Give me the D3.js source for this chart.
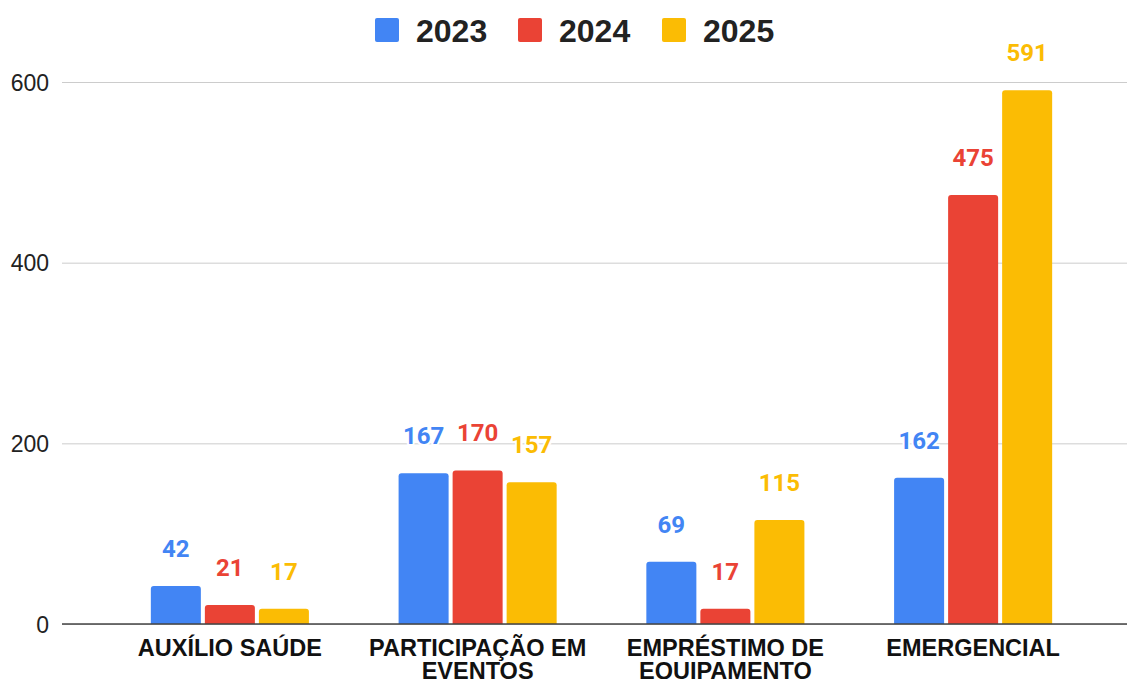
<!DOCTYPE html>
<html lang="pt">
<head>
    <meta charset="UTF-8">
    <script src="https://d3js.org/d3.v7.min.js"></script>
    <style>
        body { margin: 0; background: #fff; font-family: "Liberation Sans", Arial, sans-serif; }
        svg { display: block; }
        .grid line { stroke: #cccccc; stroke-width: 1px; }
        .grid text { fill: #222; font-size: 23px; }
        .xaxis text { fill: #111; font-size: 23.5px; font-weight: bold; }
        .label { font-family: Roboto, sans-serif; font-weight: bold; font-size: 24px;
                 paint-order: stroke; stroke: #fff; stroke-width: 4px; stroke-linejoin: round; }
    </style>
</head>
<body>
    <svg id="chart"></svg>
    <script>
        // categorias e valores
        const categorias = ["AUXÍLIO SAÚDE", "PARTICIPAÇÃO EM EVENTOS", "EMPRÉSTIMO DE EQUIPAMENTO", "EMERGENCIAL"];
        const anos = ["2023", "2024", "2025"];
        const valores2023 = [42, 167, 69, 162];
        const valores2024 = [21, 170, 17, 475];
        const valores2025 = [17, 157, 115, 591];
        const cores = ["#4285F4", "#EA4335", "#FBBC04"];
        const yTicks = [0, 200, 400, 600];

        const series = [valores2023, valores2024, valores2025];
        const data = categorias.map((c, i) => ({
            cat: c,
            vals: anos.map((a, j) => ({ ano: a, v: series[j][i], cor: cores[j] }))
        }));

        const width = 1127, height = 679;
        const svg = d3.select("#chart").attr("width", width).attr("height", height);

        const x0 = d3.scaleBand()
            .domain(categorias)
            .range([106, 1097])
            .paddingInner(0.362)
            .paddingOuter(0.181);

        const x1 = d3.scaleBand()
            .domain(anos)
            .range([0, x0.bandwidth()])
            .paddingInner(0.074);

        const y = d3.scaleLinear()
            .domain([0, 600])
            .range([624, 82]);

        // linhas de grade
        const grid = svg.append("g")
            .attr("class", "grid")
            .attr("transform", "translate(62,0)")
            .call(d3.axisLeft(y).tickValues(yTicks).tickSize(-(width - 62)).tickPadding(13));
        grid.select(".domain").remove();
        grid.selectAll("text").attr("dy", "0.36em");

        // barras
        const groups = svg.selectAll(".grupo")
            .data(data)
            .enter()
            .append("g")
            .attr("transform", d => `translate(${x0(d.cat)},0)`);

        groups.selectAll("path")
            .data(d => d.vals)
            .enter()
            .append("path")
            .attr("fill", d => d.cor)
            .attr("d", d => {
                const bx = x1(d.ano), bw = x1.bandwidth();
                const top = y(d.v), base = y(0), r = 3;
                return `M${bx},${base}V${top + r}Q${bx},${top} ${bx + r},${top}` +
                       `H${bx + bw - r}Q${bx + bw},${top} ${bx + bw},${top + r}V${base}Z`;
            });

        // eixo x
        svg.append("line")
            .attr("x1", 62).attr("x2", width)
            .attr("y1", y(0)).attr("y2", y(0))
            .attr("stroke", "#444").attr("stroke-width", 1.5);

        const xaxis = svg.append("g")
            .attr("class", "xaxis")
            .attr("transform", `translate(0,${y(0)})`)
            .call(d3.axisBottom(x0).tickSize(0).tickPadding(0));
        xaxis.select(".domain").remove();
        xaxis.selectAll("text").each(function (d) {
            const t = d3.select(this).text("").attr("dy", null).attr("y", 0);
            const words = d.split(" ");
            let lines = [], cur = [];
            words.forEach(w => {
                cur.push(w);
                if (cur.join(" ").length > 16 && cur.length > 1) {
                    cur.pop(); lines.push(cur.join(" ")); cur = [w];
                }
            });
            lines.push(cur.join(" "));
            lines.forEach((l, i) => {
                t.append("tspan").attr("x", 0).attr("y", 32 + i * 23).text(l);
            });
        });

        // rótulos de valor
        groups.selectAll(".label")
            .data(d => d.vals)
            .enter()
            .append("text")
            .attr("class", "label")
            .attr("text-anchor", "middle")
            .attr("x", d => x1(d.ano) + x1.bandwidth() / 2)
            .attr("y", d => y(d.v) - 29)
            .attr("fill", d => d.cor)
            .text(d => d.v);

        // legenda
        const legX = [375, 518, 662];
        const legend = svg.append("g");
        anos.forEach((a, i) => {
            legend.append("rect")
                .attr("x", legX[i]).attr("y", 18)
                .attr("width", 24).attr("height", 24)
                .attr("rx", 2)
                .attr("fill", cores[i]);
            legend.append("text")
                .attr("x", legX[i] + 41).attr("y", 41.5)
                .attr("font-size", 32).attr("font-weight", "bold")
                .attr("fill", "#222")
                .text(a);
        });
    </script>
</body>
</html>
